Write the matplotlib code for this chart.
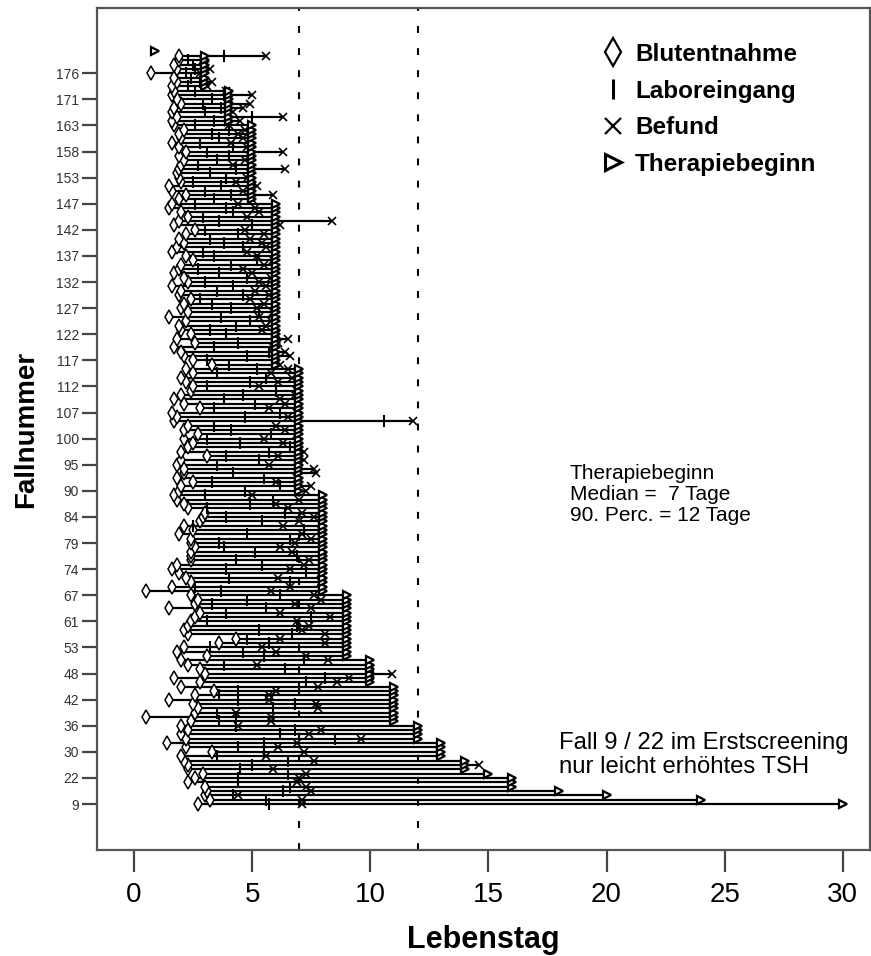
import numpy as np
import matplotlib
matplotlib.use("Agg")
import matplotlib.pyplot as plt
from matplotlib.lines import Line2D

plt.rcParams['font.family'] = ['Liberation Sans', 'DejaVu Sans']

nan = np.nan

# days of life per case, row 0 = bottom of the chart (case 9)
blutentnahme = [
    2.7, 3.2, 3.0, 3.1, 3.0, 2.3, 2.6, 2.9, 2.3, 2.3,
    2.1, 2.0, 3.3, 2.2, 1.4, 2.2, 2.0, 2.3, 2.0, 2.4,
    0.5, 2.6, 2.7, 2.5, 1.5, 2.6, 3.4, 2.0, 2.8, 1.7,
    3.0, 2.8, 2.3, 2.0, 3.1, 1.8, 2.1, 3.6, 4.3, 2.3,
    2.1, 2.3, 2.4, 2.6, 2.8, 1.5, 2.6, 2.7, 2.4, 0.5,
    1.6, 2.4, 2.2, 1.9, 1.6, 1.8, 2.4, 2.4, 2.4, 2.6,
    2.4, 2.4, 1.9, 2.5, 2.1, 2.8, 2.9, 3.0, 2.3, 2.1,
    1.8, 1.7, 1.9, 2.0, 2.5, 1.8, 2.1, 2.1, 1.8, 2.0,
    3.1, 2.0, 2.3, 2.5, 2.1, 2.7, 2.1, 2.3, 1.7, 1.8,
    1.6, 2.8, 2.1, 1.7, 2.0, 2.4, 2.5, 2.2, 2.0, 2.5,
    2.2, 3.3, 2.5, 2.1, 2.0, 1.7, 2.6, 1.8, 2.4, 2.0,
    1.9, 2.2, 1.5, 2.3, 2.0, 2.1, 2.4, 1.9, 2.0, 1.6,
    2.3, 2.1, 1.7, 1.9, 2.0, 2.5, 2.2, 1.6, 1.8, 2.1,
    1.9, 2.2, 2.6, 1.7, 1.9, 2.3, 2.0, 1.5, 1.6, 1.9,
    2.2, 1.6, 1.5, 2.0, 1.9, 1.8, 1.9, 2.0, 2.1, 1.9,
    2.2, 1.9, 1.6, 2.0, 1.9, 2.1, 1.7, 1.6, 1.8, 1.6,
    1.7, 2.0, 1.8, 1.6, 1.7, 1.6, 1.8, 1.7, 0.7, 1.8,
    1.7, 1.9, 1.9, nan,
]
laboreingang = [
    5.7, 5.6, 4.2, 6.3, 6.6, 4.4, 4.4, 6.5, 4.5, 5.0,
    6.5, 3.5, 5.5, 4.4, 5.5, 8.5, 6.2, 6.8, 4.3, 3.6,
    4.3, 3.5, 5.9, 6.8, 4.4, 3.6, 4.4, 7.0, 7.3, 8.1,
    10.1, 6.4, 3.8, 7.2, 5.5, 4.6, 3.2, 5.7, 4.8, 6.7,
    5.3, 6.9, 3.1, 7.5, 3.9, 5.6, 3.3, 4.8, 6.2, 3.7,
    2.6, 6.6, 4.0, 7.3, 3.9, 5.4, 4.3, 6.9, 5.1, 3.8,
    3.6, 6.6, 4.8, 7.2, 2.5, 5.4, 3.9, 6.4, 3.1, 4.9,
    5.9, 3.0, 4.7, 6.2, 3.3, 5.5, 4.2, 6.8, 3.5, 5.3,
    3.9, 5.7, 6.6, 4.5, 3.1, 5.8, 4.1, 3.4, 10.6, 4.7,
    6.2, 3.4, 5.1, 3.8, 4.6, 6.0, 3.1, 4.9, 5.6, 3.5,
    5.2, 4.0, 3.1, 4.8, 5.7, 3.4, 4.4, 5.9, 3.9, 3.2,
    4.3, 4.9, 3.7, 5.3, 4.1, 3.3, 2.8, 4.6, 3.5, 4.2,
    3.0, 4.8, 3.6, 2.7, 4.1, 5.2, 3.4, 2.9, 4.6, 3.8,
    3.2, 4.4, 3.0, 5.0, 3.6, 2.9, 4.2, 3.9, 2.6, 3.4,
    4.1, 3.0, 3.7, 2.5, 3.9, 3.2, 4.3, 2.7, 3.5, 4.0,
    3.1, 4.2, 2.8, 3.6, 3.3, 4.0, 2.6, 3.4, 5.0, 3.0,
    3.7, 2.9, 3.3, 3.8, 2.6, 2.3, 2.8, 2.4, 2.2, 2.6,
    2.5, 2.3, 3.8, nan,
]
befund = [
    7.1, 7.1, 4.4, 7.5, 7.3, 6.9, 7.0, 7.3, 5.9, 14.6,
    7.6, 5.6, 7.2, 6.1, 6.9, 9.6, 7.4, 7.9, 4.4, 5.8,
    5.8, 4.3, 7.8, 7.7, 5.7, 5.7, 6.0, 7.8, 8.6, 9.1,
    10.9, 10.0, 5.2, 8.2, 7.3, 6.0, 5.4, 8.1, 6.2, 8.1,
    7.1, 7.4, 6.9, 8.3, 6.2, 7.5, 6.8, 7.9, 7.6, 5.8,
    6.6, 7.9, 6.1, 7.9, 6.6, 7.2, 7.4, 8.0, 6.7, 6.2,
    6.8, 7.5, 7.1, 7.9, 6.3, 7.0, 7.6, 7.1, 6.5, 6.0,
    7.0, 5.0, 7.3, 7.5, 6.0, 6.9, 7.7, 7.6, 5.7, 7.2,
    6.1, 7.2, 7.0, 6.3, 5.5, 6.9, 6.4, 6.0, 11.8, 6.5,
    6.9, 5.7, 6.4, 6.2, 6.8, 6.9, 5.3, 6.1, 6.7, 5.8,
    6.5, 6.2, 6.0, 6.6, 6.4, 5.9, 6.1, 6.5, 6.0, 5.4,
    5.6, 5.8, 5.3, 5.9, 5.2, 5.5, 4.9, 5.7, 5.1, 5.6,
    5.3, 5.8, 5.0, 4.6, 5.5, 5.9, 5.2, 4.8, 5.6, 5.4,
    4.9, 5.5, 4.7, 6.2, 8.4, 4.8, 5.3, 5.1, 4.4, 5.0,
    5.9, 4.6, 5.2, 4.3, 4.8, 4.9, 6.4, 4.2, 4.7, 4.9,
    6.3, 4.8, 4.1, 4.6, 4.4, 4.7, 4.0, 4.5, 6.3, 4.2,
    4.6, 4.9, 4.0, 5.0, 3.9, 3.1, 3.3, 2.9, 2.8, 3.2,
    3.0, 2.9, 5.6, nan,
]
therapiebeginn = [
    30, 24, 20, 18, 16, 16, 16, 15, 14, 14,
    14, 13, 13, 13, 13, 12, 12, 12, 12, 11,
    11, 11, 11, 11, 11, 11, 11, 11, 10, 10,
    10, 10, 10, 10, 9, 9, 9, 9, 9, 9,
    9, 9, 9, 9, 9, 9, 9, 9, 9, 8,
    8, 8, 8, 8, 8, 8, 8, 8, 8, 8,
    8, 8, 8, 8, 8, 8, 8, 8, 8, 8,
    8, 8, 7, 7, 7, 7, 7, 7, 7, 7,
    7, 7, 7, 7, 7, 7, 7, 7, 7, 7,
    7, 7, 7, 7, 7, 7, 7, 7, 7, 7,
    7, 6, 6, 6, 6, 6, 6, 6, 6, 6,
    6, 6, 6, 6, 6, 6, 6, 6, 6, 6,
    6, 6, 6, 6, 6, 6, 6, 6, 6, 6,
    6, 6, 6, 6, 6, 6, 6, 6, 6, 5,
    5, 5, 5, 5, 5, 5, 5, 5, 5, 5,
    5, 5, 5, 5, 5, 5, 5, 4, 4, 4,
    4, 4, 4, 4, 4, 3, 3, 3, 3, 3,
    3, 3, 3, 0.9,
]
fall_labels = ['9', '22', '30', '36', '42', '48', '53', '61', '67', '74',
               '79', '84', '90', '95', '100', '107', '112', '117', '122',
               '127', '132', '137', '142', '147', '153', '158', '163',
               '171', '176']

rows = np.arange(len(therapiebeginn))
allvals = np.vstack([blutentnahme, laboreingang, befund, therapiebeginn])
starts = np.nanmin(allvals, axis=0)
ends = np.nanmax(allvals, axis=0)

fig = plt.figure(figsize=(8.71, 9.56), dpi=100)
ax = fig.add_axes([97 / 871, 1 - 850 / 956, 773 / 871, 842 / 956])

ax.axvline(7, color='black', lw=1.5, dashes=(3.3, 7.3), zorder=1)
ax.axvline(12, color='black', lw=1.5, dashes=(3.3, 7.3), zorder=1)

ax.hlines(rows, starts, ends, color='black', lw=1.6, zorder=2)
ax.plot(blutentnahme, rows, ls='none', marker='d', ms=7, mfc='white', mec='black', mew=1.1, zorder=3)
ax.plot(laboreingang, rows, ls='none', marker='|', ms=8, mec='black', mew=1.5, zorder=3)
ax.plot(befund, rows, ls='none', marker='x', ms=6, mec='black', mew=1.2, zorder=3)
ax.plot(therapiebeginn, rows, ls='none', marker='>', ms=6, mfc='white', mec='black', mew=1.6, zorder=3)

ax.set_xlim(-1.566, 31.15)
ax.set_ylim(-10.57, 183.0)
ax.set_xticks([0, 5, 10, 15, 20, 25, 30])
ax.set_yticks(rows[::6])
ax.set_yticklabels(fall_labels)
ax.tick_params(axis='x', length=16, width=1.6, pad=7, labelsize=20, color='#444444')
ax.tick_params(axis='y', length=11, width=1.6, pad=2, labelsize=10, color='#444444', labelcolor='#333333')
for s in ax.spines.values():
    s.set_color('#555555')
    s.set_linewidth(1.6)

ax.set_xlabel('Lebenstag', fontsize=22, fontweight='bold', labelpad=12)
ax.set_ylabel('Fallnummer', fontsize=20, fontweight='bold', labelpad=12)

ax.text(18.45, 78.2, 'Therapiebeginn\nMedian =  7 Tage\n90. Perc. = 12 Tage',
        fontsize=15, va='top', ha='left', linespacing=1.15)
ax.text(18.0, 16.6, 'Fall 9 / 22 im Erstscreening\nnur leicht erhöhtes TSH',
        fontsize=17.2, va='top', ha='left', linespacing=1.12)

handles = [
    Line2D([], [], ls='none', marker='d', ms=14, mfc='white', mec='black', mew=1.6),
    Line2D([], [], ls='none', marker='|', ms=14, mec='black', mew=2.2),
    Line2D([], [], ls='none', marker='x', ms=12, mec='black', mew=1.6),
    Line2D([], [], ls='none', marker='>', ms=12, mfc='white', mec='black', mew=2.2),
]
labels = ['Blutentnahme', 'Laboreingang', 'Befund', 'Therapiebeginn']
ax.legend(handles, labels, loc='upper left', bbox_to_anchor=(601 / 871, 1 - 43 / 956),
          bbox_transform=fig.transFigure, frameon=False, borderpad=0, borderaxespad=0,
          handlelength=1.0, handletextpad=0.4, labelspacing=0.56,
          prop={'size': 17.5, 'weight': 'bold'})

fig.savefig('out.png', dpi=100)
